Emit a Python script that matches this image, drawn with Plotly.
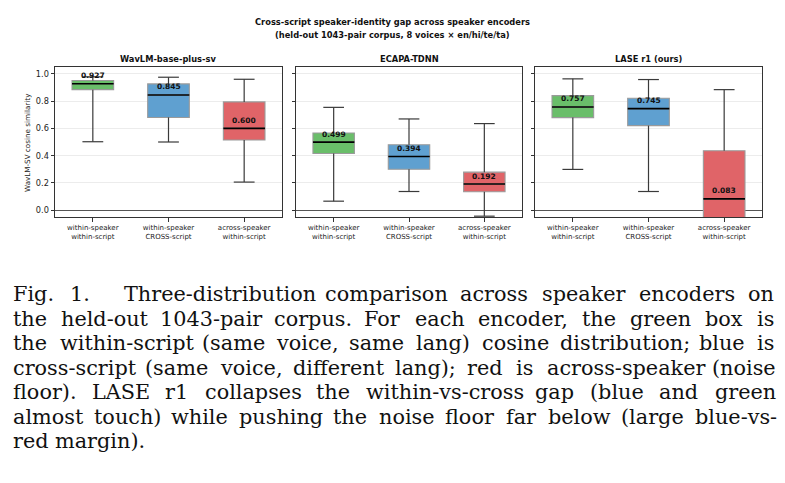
import plotly.graph_objects as go

# ---------------- data ----------------
encoders = ["WavLM-base-plus-sv", "ECAPA-TDNN", "LASE r1 (ours)"]
categories = ["within-speaker<br>within-script",
              "within-speaker<br>CROSS-script",
              "across-speaker<br>within-script"]
medians = [[0.927, 0.845, 0.600], [0.499, 0.394, 0.192], [0.757, 0.745, 0.083]]
q1s = [[0.884, 0.680, 0.515], [0.416, 0.300, 0.135], [0.679, 0.620, -0.30]]
q3s = [[0.951, 0.926, 0.794], [0.566, 0.480, 0.279], [0.840, 0.821, 0.436]]
whisk_lo = [[0.502, 0.500, 0.206], [0.066, 0.137, -0.044], [0.299, 0.137, -0.60]]
whisk_hi = [[0.978, 0.975, 0.960], [0.754, 0.669, 0.635], [0.963, 0.958, 0.884]]
box_colors = ["#6abe6a", "#5fa0d0", "#e06468"]
y_ticks = [0.0, 0.2, 0.4, 0.6, 0.8, 1.0]

title_lines = ["Cross-script speaker-identity gap across speaker encoders",
               "(held-out 1043-pair corpus, 8 voices × en/hi/te/ta)"]
y_label = "WavLM-SV cosine similarity"
caption_lines = [
    "Fig. 1.  Three-distribution comparison across speaker encoders on",
    "the held-out 1043-pair corpus. For each encoder, the green box is",
    "the within-script (same voice, same lang) cosine distribution; blue is",
    "cross-script (same voice, different lang); red is across-speaker (noise",
    "floor). LASE r1 collapses the within-vs-cross gap (blue and green",
    "almost touch) while pushing the noise floor far below (large blue-vs-",
    "red margin).",
]

# ---------------- layout constants ----------------
W, H = 785, 483
BOX_W = 0.55
CAP_W = BOX_W / 2
x_domains = [[55 / W, 282 / W], [296 / W, 522 / W], [535 / W, 762 / W]]
y_domain = [1 - 217 / H, 1 - 67 / H]
SANS = "DejaVu Sans"

fig = go.Figure()
positions = [1, 2, 3]

for p, enc in enumerate(encoders):
    xa = "x" if p == 0 else f"x{p + 1}"
    ya = "y" if p == 0 else f"y{p + 1}"
    for i, pos in enumerate(positions):
        fig.add_trace(go.Box(
            x=[pos], q1=[q1s[p][i]], median=[medians[p][i]], q3=[q3s[p][i]],
            lowerfence=[q1s[p][i]], upperfence=[q3s[p][i]],
            width=BOX_W, fillcolor=box_colors[i],
            line=dict(color="#9a9a9a", width=1.1), whiskerwidth=0,
            boxpoints=False, showlegend=False, hoverinfo="skip",
            xaxis=xa, yaxis=ya))
    wx, wy = [], []
    mx, my = [], []
    for i, pos in enumerate(positions):
        wx += [pos, pos, None, pos, pos, None,
               pos - CAP_W / 2, pos + CAP_W / 2, None,
               pos - CAP_W / 2, pos + CAP_W / 2, None]
        wy += [q3s[p][i], whisk_hi[p][i], None, q1s[p][i], whisk_lo[p][i], None,
               whisk_hi[p][i], whisk_hi[p][i], None,
               whisk_lo[p][i], whisk_lo[p][i], None]
        mx += [pos - BOX_W / 2, pos + BOX_W / 2, None]
        my += [medians[p][i], medians[p][i], None]
    fig.add_trace(go.Scatter(x=wx, y=wy, mode="lines",
                             line=dict(color="#3a3a3a", width=1.2),
                             showlegend=False, hoverinfo="skip",
                             xaxis=xa, yaxis=ya))
    fig.add_trace(go.Scatter(x=mx, y=my, mode="lines",
                             line=dict(color="#000000", width=1.6),
                             showlegend=False, hoverinfo="skip",
                             xaxis=xa, yaxis=ya))
    for i, pos in enumerate(positions):
        fig.add_annotation(x=pos, y=medians[p][i], xref=xa, yref=ya,
                           text=f"<b>{medians[p][i]:.3f}</b>", showarrow=False,
                           yshift=8, font=dict(family=SANS, size=7.5, color="#111"))
    fig.add_annotation(x=sum(x_domains[p]) / 2, y=1 - 59 / H, xref="paper", yref="paper",
                       text=f"<b>{enc}</b>", showarrow=False, xanchor="center",
                       yanchor="middle", font=dict(family=SANS, size=8.3, color="#111"))

axis_common = dict(showline=True, linecolor="#333", linewidth=1, mirror=True,
                   ticks="outside", ticklen=3.5, tickcolor="#333", tickwidth=0.8)
layout_axes = {}
for p in range(3):
    xk = "xaxis" if p == 0 else f"xaxis{p + 1}"
    yk = "yaxis" if p == 0 else f"yaxis{p + 1}"
    layout_axes[xk] = dict(domain=x_domains[p], range=[0.5, 3.5], tickvals=positions,
                           ticktext=categories, showgrid=False, zeroline=False,
                           anchor="y" if p == 0 else f"y{p + 1}",
                           tickfont=dict(family=SANS, size=7, color="#222"),
                           **axis_common)
    layout_axes[yk] = dict(domain=y_domain, range=[-0.05, 1.05], tickvals=y_ticks,
                           ticktext=[f"{v:.1f}" for v in y_ticks],
                           showticklabels=(p == 0), showgrid=True,
                           gridcolor="#ececec", gridwidth=0.8,
                           zeroline=True, zerolinecolor="#555", zerolinewidth=1,
                           anchor="x" if p == 0 else f"x{p + 1}",
                           tickfont=dict(family=SANS, size=8.2, color="#222"),
                           **axis_common)

fig.update_layout(width=W, height=H, margin=dict(l=0, r=0, t=0, b=0),
                  paper_bgcolor="white", plot_bgcolor="white",
                  boxmode="overlay", showlegend=False, **layout_axes)

for k, line in enumerate(title_lines):
    fig.add_annotation(x=392 / W, y=1 - (22 + 13 * k) / H, xref="paper", yref="paper",
                       text=f"<b>{line}</b>", showarrow=False, xanchor="center",
                       yanchor="middle", font=dict(family=SANS, size=8.3, color="#111"))
fig.add_annotation(x=27 / W, y=1 - 143 / H, xref="paper", yref="paper", text=y_label,
                   showarrow=False, textangle=-90, xanchor="center", yanchor="middle",
                   font=dict(family=SANS, size=7.2, color="#222"))

# caption, justified using approximate DejaVu Serif advance widths
SERIF_W = {' ': 318, '(': 390, ')': 390, ',': 318, '-': 338, '.': 318, ';': 337,
           'A': 722, 'B': 735, 'C': 765, 'D': 802, 'E': 730, 'F': 694, 'G': 799,
           'H': 872, 'I': 395, 'L': 648, 'R': 753, 'S': 685, 'T': 704,
           'a': 596, 'b': 640, 'c': 560, 'd': 640, 'e': 592, 'f': 370, 'g': 640,
           'h': 644, 'i': 320, 'j': 310, 'k': 600, 'l': 320, 'm': 948, 'n': 644,
           'o': 602, 'p': 640, 'q': 640, 'r': 478, 's': 513, 't': 402, 'u': 644,
           'v': 565, 'w': 856, 'x': 564, 'y': 565, 'z': 523}
W_CORR = 0.952
FS = 20.8
LINE_H = 24.5
X0, X1 = 12, 772


def tw(s):
    return sum(SERIF_W.get(c, 636) for c in s) / 1000 * FS * W_CORR


for k, line in enumerate(caption_lines):
    yc = 1 - (294 + LINE_H * k) / H
    words = line.split()
    last = k == len(caption_lines) - 1
    widths = [tw(w) for w in words]
    extra = [0.0] * len(words)
    if line.startswith("Fig. 1."):
        extra[1] = 18
    if last:
        gap = tw(" ") * 1.3
    else:
        gap = (X1 - X0 - sum(widths) - sum(extra)) / (len(words) - 1)
    x = X0
    for j, w in enumerate(words):
        fig.add_annotation(x=x / W, y=yc, xref="paper", yref="paper", text=w,
                           showarrow=False, xanchor="left", yanchor="middle",
                           borderpad=0,
                           font=dict(family="DejaVu Serif", size=FS, color="#111"))
        x += widths[j] + extra[j] + gap

fig.write_html("out.html")
